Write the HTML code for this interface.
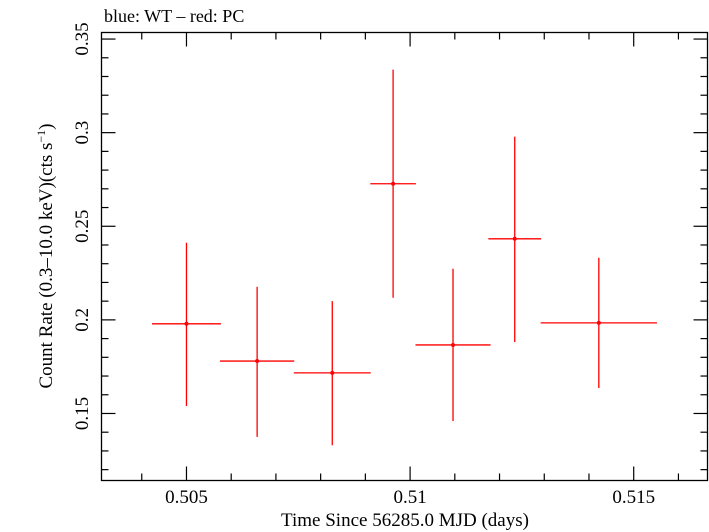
<!DOCTYPE html>
<html><head><meta charset="utf-8"><style>
body{margin:0;background:#fff}
svg{display:block;font-family:"Liberation Serif",serif}
</style></head><body>
<svg id="c" width="709" height="532" viewBox="0 0 709 532">
<text x="104" y="22" font-size="18">blue: WT – red: PC</text>
<rect x="101.5" y="32.5" width="606" height="448" fill="none" stroke="#000" stroke-width="1.3"/>
<g id="ticks"></g><g id="marks"></g>
<text x="405" y="526" font-size="19" text-anchor="middle">Time Since 56285.0 MJD (days)</text>
<text transform="translate(52,256) rotate(-90)" font-size="19" text-anchor="middle">Count Rate (0.3–10.0 keV)(cts s<tspan baseline-shift="super" font-size="12">−1</tspan>)</text>
</svg>
<script>
const times=[0.50500,0.50658,0.50826,0.50962,0.51096,0.51234,0.51422];
const halfWidths=[0.00077,0.00083,0.00086,0.00051,0.00084,0.00059,0.0013];
const rates=[0.1979,0.178,0.1717,0.2727,0.1866,0.2433,0.1984];
const errHigh=[0.2412,0.2177,0.210,0.3337,0.2273,0.2979,0.2332];
const errLow=[0.154,0.1375,0.133,0.2118,0.146,0.1882,0.1636];
const xTicks=[0.505,0.51,0.515];
const xTickLabels=["0.505","0.51","0.515"];
const yTicks=[0.15,0.2,0.25,0.3,0.35];
const yTickLabels=["0.15","0.2","0.25","0.3","0.35"];
const X0=0.5031,X1=0.51665,Y0=0.1142,Y1=0.3535;
const L=101.5,R=707.5,T=32.5,B=480.5;
const sx=v=>L+(v-X0)/(X1-X0)*(R-L);
const sy=v=>B-(v-Y0)/(Y1-Y0)*(B-T);
const NS="http://www.w3.org/2000/svg";
function mk(tag,attrs,parent){const e=document.createElementNS(NS,tag);for(const k in attrs)e.setAttribute(k,attrs[k]);parent.appendChild(e);return e;}
const tg=document.getElementById('ticks'),mg=document.getElementById('marks');
for(let k=504;k<=516;k++){const v=k/1000;const x=sx(v);const major=k%5===0;const len=major?14:7;
const a=mk('line',{x1:x,x2:x,y1:B,y2:B-len,stroke:'#000','stroke-width':1.2},tg);


const b=mk('line',{x1:x,x2:x,y1:T,y2:T+len,stroke:'#000','stroke-width':1.2},tg);

}
for(let k=12;k<=35;k++){const v=k/100;const y=sy(v);const major=k%5===0;const len=major?14:7;
const a=mk('line',{x1:L,x2:L+len,y1:y,y2:y,stroke:'#000','stroke-width':1.2},tg);


const b=mk('line',{x1:R,x2:R-len,y1:y,y2:y,stroke:'#000','stroke-width':1.2},tg);

}
xTicks.forEach((v,i)=>{const t=mk('text',{x:sx(v),y:503,'font-size':19,'text-anchor':'middle'},tg);t.textContent=xTickLabels[i];

});
yTicks.forEach((v,i)=>{const t=mk('text',{transform:`translate(88,${sy(v)}) rotate(-90)`,'font-size':19,'text-anchor':'middle'},tg);t.textContent=yTickLabels[i];

});
times.forEach((t,i)=>{const g=mk('g',{},mg);


mk('line',{x1:sx(t-halfWidths[i]),x2:sx(t+halfWidths[i]),y1:sy(rates[i]),y2:sy(rates[i]),stroke:'#f00','stroke-width':1.3},g);
mk('line',{x1:sx(t),x2:sx(t),y1:sy(errHigh[i]),y2:sy(errLow[i]),stroke:'#f00','stroke-width':1.3},g);
mk('circle',{cx:sx(t),cy:sy(rates[i]),r:2,fill:'#f00'},g);});
</script>
</body></html>
